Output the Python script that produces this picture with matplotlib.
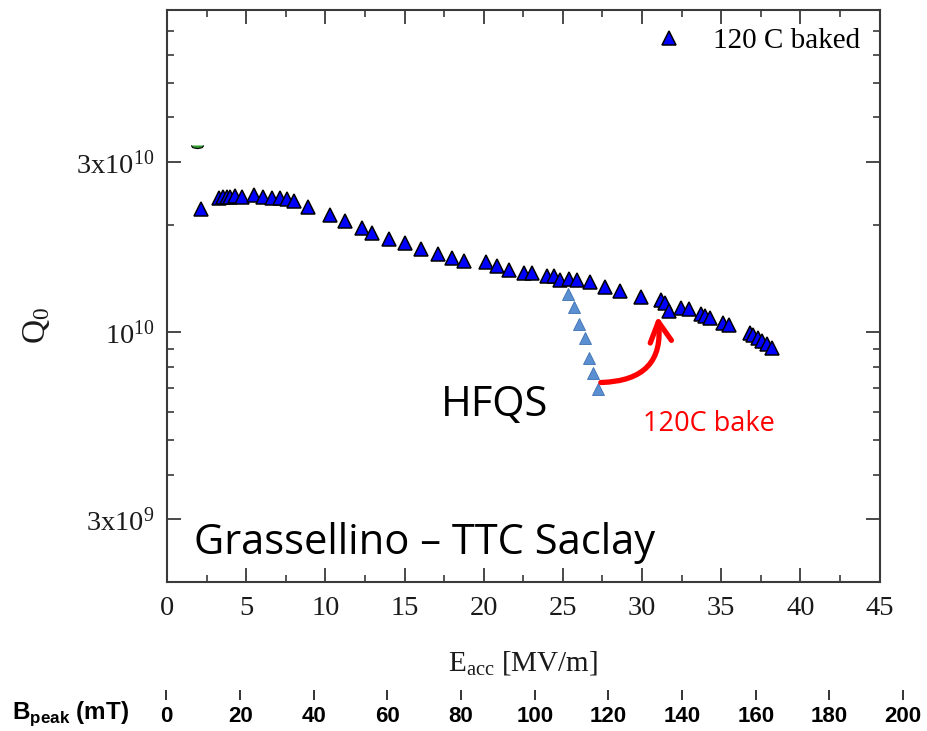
import matplotlib
matplotlib.use("Agg")
import matplotlib.pyplot as plt
from matplotlib.ticker import FixedLocator, FixedFormatter, LogLocator, NullFormatter, MultipleLocator

# ---- data -------------------------------------------------------------
# 120 C baked cavity: accelerating gradient [MV/m] and quality factor
e_baked = [2.12, 3.26, 3.51, 3.76, 4.01, 4.27, 4.71, 5.49, 6.06, 6.61,
           7.13, 7.55, 8.02, 8.93, 10.27, 11.24, 12.34, 12.97, 14.02, 15.01,
           16.07, 17.14, 17.98, 18.76, 20.13, 20.87, 21.61, 22.52, 23.08, 24.03,
           24.45, 24.80, 25.40, 25.87, 26.73, 27.66, 28.62, 29.96, 31.18, 31.45,
           31.73, 32.46, 32.98, 33.72, 34.00, 34.31, 35.10, 35.51, 36.80, 37.00,
           37.30, 37.60, 37.90, 38.20]
q_baked = [2.21e10, 2.38e10, 2.39e10, 2.40e10, 2.40e10, 2.41e10, 2.40e10, 2.42e10, 2.40e10, 2.38e10,
           2.38e10, 2.37e10, 2.34e10, 2.24e10, 2.13e10, 2.05e10, 1.96e10, 1.90e10, 1.83e10, 1.78e10,
           1.71e10, 1.66e10, 1.62e10, 1.59e10, 1.57e10, 1.53e10, 1.50e10, 1.47e10, 1.47e10, 1.44e10,
           1.44e10, 1.40e10, 1.41e10, 1.40e10, 1.38e10, 1.34e10, 1.31e10, 1.26e10, 1.23e10, 1.21e10,
           1.148e10, 1.17e10, 1.16e10, 1.126e10, 1.11e10, 1.10e10, 1.064e10, 1.046e10, 0.994e10, 0.981e10,
           0.962e10, 0.944e10, 0.926e10, 0.902e10]

# unbaked cavity: high field Q-slope
e_hfqs = [25.33, 25.68, 26.03, 26.39, 26.66, 26.88, 27.23]
q_hfqs = [1.28e10, 1.177e10, 1.053e10, 0.966e10, 0.846e10, 0.772e10, 0.693e10]

# partly hidden point of another series
e_other = [1.9]
q_other = [3.35e10]

# bake arrow: from the last HFQS point up to the baked curve
arrow_start = (27.40, 7.24e9)
arrow_end = (30.99, 1.11e10)

e_ticks = [0, 5, 10, 15, 20, 25, 30, 35, 40, 45]
q_tick_values = [3e9, 1e10, 3e10]
q_tick_labels = [r"$\mathregular{3x10^{9}}$", r"$\mathregular{10^{10}}$",
                 r"$\mathregular{3x10^{10}}$"]
bpeak_ticks = [0, 20, 40, 60, 80, 100, 120, 140, 160, 180, 200]

# ---- figure -----------------------------------------------------------
W, H = 928, 731
fig = plt.figure(figsize=(W / 100, H / 100), dpi=100)
fig.patch.set_facecolor("white")

def fx(px):
    return px / W

def fy(py):
    return 1 - py / H

serif = "Liberation Serif"
sans = "Open Sans"
axis_col = "#3a3a3a"
text_col = "#1a1a1a"

ax = fig.add_axes([fx(167), fy(582), fx(879.5) - fx(167), fy(10) - fy(582)])
ax.set_yscale("log")
ax.set_xlim(0, 45)
ax.set_ylim(2e9, 8e10)

for s in ax.spines.values():
    s.set_color(axis_col)
    s.set_linewidth(1.5)

ax.xaxis.set_major_locator(FixedLocator(e_ticks))
ax.xaxis.set_minor_locator(MultipleLocator(2.5))
ax.yaxis.set_major_locator(FixedLocator(q_tick_values))
ax.yaxis.set_major_formatter(FixedFormatter(q_tick_labels))
ax.yaxis.set_minor_locator(LogLocator(base=10, subs=[2, 3, 4, 5, 6, 7, 8, 9], numticks=20))
ax.yaxis.set_minor_formatter(NullFormatter())

ax.tick_params(which="both", direction="in", top=True, right=True, color=axis_col)
ax.tick_params(which="major", length=10, width=1.3)
ax.tick_params(which="minor", length=5, width=1.2)
ax.tick_params(axis="x", which="major", pad=10)
ax.tick_params(axis="y", which="major", pad=9)
for lab in ax.get_xticklabels() + ax.get_yticklabels():
    lab.set_fontfamily(serif)
    lab.set_fontsize(20.5)
    lab.set_color(text_col)

ax.set_xlabel(r"$\mathregular{E_{acc}}$ [MV/m]", fontfamily=serif, fontsize=21,
              color=text_col, labelpad=20)
ax.set_ylabel(r"$\mathregular{Q_0}$", fontfamily=serif, fontsize=24, color=text_col)
ax.yaxis.set_label_coords(-0.162, 0.449)

# series
baked, = ax.plot(e_baked, q_baked, linestyle="none", marker="^", markersize=10,
                 markerfacecolor="#0000ff", markeredgecolor="black",
                 markeredgewidth=1.1, label="120 C baked", zorder=4)
ax.plot(e_hfqs, q_hfqs, linestyle="none", marker="^", markersize=8,
        markerfacecolor="#5a8fd2", markeredgecolor="#3f70b0",
        markeredgewidth=0.6, zorder=3)
half_lens = [(-1, 0), (-0.75, -0.35), (0, -0.5), (0.75, -0.35), (1, 0)]
ax.plot(e_other, q_other, linestyle="none", marker=half_lens, markersize=9,
        markerfacecolor="#2f9a2f", markeredgecolor="black",
        markeredgewidth=0.8, zorder=3)

ax.legend(handles=[baked], loc="upper right", bbox_to_anchor=(0.998, 1.0),
          frameon=False, prop={"family": serif, "size": 21},
          handlelength=1.0, handletextpad=1.02, borderaxespad=0.2)

# curved bake arrow
ax.annotate("", xy=arrow_end, xytext=arrow_start,
            arrowprops=dict(arrowstyle="->,head_length=0.6,head_width=0.32",
                            connectionstyle="arc3,rad=0.55",
                            color="#ff0000", lw=3.8, mutation_scale=24,
                            shrinkA=0, shrinkB=0),
            zorder=5)

# annotations
fig.text(fx(495), fy(405), "HFQS", family=sans, fontsize=30, color="black",
         ha="center", va="center")
fig.text(fx(709), fy(424), "120C bake", family=sans, fontsize=19.5, color="#ff0000",
         ha="center", va="center")
fig.text(fx(425), fy(543), "Grassellino \u2013 TTC Saclay", family=sans,
         fontsize=30, color="black", ha="center", va="center")

# peak magnetic field scale under the gradient axis
bx = fig.add_axes([fx(166.5), fy(700), fx(903) - fx(166.5), 0.0001])
bx.set_xlim(0, 200)
bx.set_yticks([])
for s in bx.spines.values():
    s.set_visible(False)
bx.patch.set_alpha(0)
bx.xaxis.set_major_locator(FixedLocator(bpeak_ticks))
bx.tick_params(axis="x", direction="in", length=7, width=1.4, color="#333333",
               pad=4, labelsize=16)
for lab in bx.get_xticklabels():
    lab.set_fontfamily("Liberation Sans")
    lab.set_fontweight("bold")
fig.text(fx(12), fy(714), r"B$_{\mathregular{peak}}$ (mT)", family="Liberation Sans",
         fontweight="bold", fontsize=17.5, ha="left", va="center")

fig.savefig("out.png", dpi=100, facecolor="white")
